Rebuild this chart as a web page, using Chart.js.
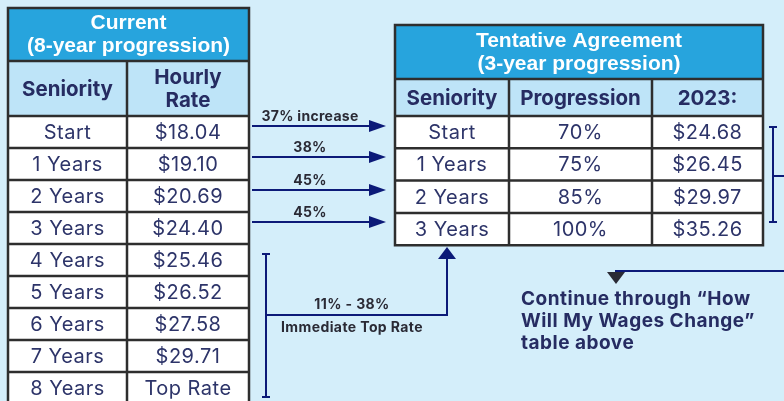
<!DOCTYPE html>
<html>
<head>
<meta charset="utf-8">
<script src="https://cdn.jsdelivr.net/npm/chart.js@4.4.0/dist/chart.umd.min.js"></script>
<style>
  html, body { margin: 0; padding: 0; background: #d4eefa; }
  canvas { display: block; }
</style>
</head>
<body>
<canvas id="chart" width="784" height="401"></canvas>
<script>
'use strict';

// current 8-year table
var currentTitle = ['Current', '(8-year progression)'];
var currentHeaders = [['Seniority'], ['Hourly', 'Rate']];
var currentRows = ['Start', '1 Years', '2 Years', '3 Years', '4 Years', '5 Years', '6 Years', '7 Years', '8 Years'];
var currentRates = ['$18.04', '$19.10', '$20.69', '$24.40', '$25.46', '$26.52', '$27.58', '$29.71', 'Top Rate'];

// tentative agreement table
var taTitle = ['Tentative Agreement', '(3-year progression)'];
var taHeaders = ['Seniority', 'Progression', '2023:'];
var taRows = ['Start', '1 Years', '2 Years', '3 Years'];
var taProgression = ['70%', '75%', '85%', '100%'];
var taRates = ['$24.68', '$26.45', '$29.97', '$35.26'];

// arrows between tables
var arrowLabels = ['37% increase', '38%', '45%', '45%'];
var jumpLabels = ['11% - 38%', 'Immediate Top Rate'];
var noteLines = ['Continue through \u201cHow', 'Will My Wages Change\u201d', 'table above'];

var NAVY = '#262c62';
var ARROW = '#0c1a78';
var BORDER = '#2e2e2e';
var TITLE_BG = '#27a4dd';
var HEAD_BG = '#bee4f8';
var FONT = 'Inter, "Open Sans", sans-serif';

var ctx = document.getElementById('chart').getContext('2d');

function drawTable(c, px, py, cols, top, titleBottom, headBottom, rowH, title, headers, columns) {
  var left = cols[0], right = cols[cols.length - 1];
  var nRows = columns[0].length;
  var bottom = headBottom + rowH * nRows;

  // fills
  c.fillStyle = TITLE_BG;
  c.fillRect(px(left), py(top), px(right) - px(left), py(titleBottom) - py(top));
  c.fillStyle = HEAD_BG;
  c.fillRect(px(left), py(titleBottom), px(right) - px(left), py(headBottom) - py(titleBottom));
  c.fillStyle = '#ffffff';
  c.fillRect(px(left), py(headBottom), px(right) - px(left), py(bottom) - py(headBottom));

  // title
  c.fillStyle = '#ffffff';
  c.font = 'bold 21px "Liberation Sans", Arial, sans-serif';
  c.textAlign = 'center';
  c.textBaseline = 'middle';
  var midX = (px(left) + px(right)) / 2;
  var tMid = (py(top) + py(titleBottom)) / 2;
  c.fillText(title[0], midX, tMid - 11);
  c.fillText(title[1], midX, tMid + 12);

  // headers
  c.fillStyle = NAVY;
  c.font = 'bold 20.5px ' + FONT;
  var hMid = (py(titleBottom) + py(headBottom)) / 2;
  for (var i = 0; i < headers.length; i++) {
    var cx = (px(cols[i]) + px(cols[i + 1])) / 2;
    var h = headers[i];
    if (typeof h === 'string') h = [h];
    for (var k = 0; k < h.length; k++) {
      c.fillText(h[k], cx, hMid + 1 + (k - (h.length - 1) / 2) * 23);
    }
  }

  // cells
  c.fillStyle = '#2d3469';
  c.font = '20px ' + FONT;
  c.letterSpacing = '0.5px';
  for (var col = 0; col < columns.length; col++) {
    var ccx = (px(cols[col]) + px(cols[col + 1])) / 2;
    for (var r = 0; r < nRows; r++) {
      var cy = py(headBottom + rowH * r + rowH / 2);
      c.fillText(columns[col][r], ccx, cy + 1);
    }
  }
  c.letterSpacing = '0px';

  // grid
  c.strokeStyle = BORDER;
  c.lineWidth = 2.5;
  c.beginPath();
  c.rect(px(left), py(top), px(right) - px(left), py(bottom) - py(top));
  c.moveTo(px(left), py(titleBottom)); c.lineTo(px(right), py(titleBottom));
  for (var j = 0; j <= nRows; j++) {
    var yy = py(headBottom + rowH * j);
    c.moveTo(px(left), yy); c.lineTo(px(right), yy);
  }
  for (var m = 1; m < cols.length - 1; m++) {
    c.moveTo(px(cols[m]), py(titleBottom)); c.lineTo(px(cols[m]), py(bottom));
  }
  c.stroke();
}

function arrowRight(c, x0, x1, y) {
  c.strokeStyle = ARROW;
  c.fillStyle = ARROW;
  c.lineWidth = 2;
  c.beginPath(); c.moveTo(x0, y); c.lineTo(x1 - 15, y); c.stroke();
  c.beginPath(); c.moveTo(x1, y); c.lineTo(x1 - 17, y - 6); c.lineTo(x1 - 17, y + 6); c.closePath(); c.fill();
}

var tablePlugin = {
  id: 'tables',
  beforeDraw: function(chart) {
    var c = chart.ctx;
    c.save();
    c.fillStyle = '#d4eefa';
    c.fillRect(0, 0, chart.width, chart.height);
    c.restore();
  },
  afterDatasetsDraw: function(chart) {
    var c = chart.ctx;
    var xs = chart.scales.x, ys = chart.scales.y;
    var px = function(v) { return xs.getPixelForValue(v); };
    var py = function(v) { return ys.getPixelForValue(v); };
    c.save();

    drawTable(c, px, py, [8, 127, 249], 8, 61, 116, 32, currentTitle, currentHeaders, [currentRows, currentRates]);
    drawTable(c, px, py, [395, 509, 652, 763], 25, 79, 116, 32.3, taTitle, taHeaders, [taRows, taProgression, taRates]);

    // row arrows
    c.font = 'bold 14px ' + FONT;
    c.letterSpacing = '0.3px';
    c.textAlign = 'center';
    c.textBaseline = 'middle';
    var arrowY = [126, 157, 190, 222];
    for (var i = 0; i < arrowLabels.length; i++) {
      arrowRight(c, px(252), px(386), py(arrowY[i]));
      c.fillStyle = '#2a2a35';
      c.fillText(arrowLabels[i], px(310), py(arrowY[i] - 9));
    }

    // bracket on 4-8 years to TA start
    c.strokeStyle = ARROW;
    c.fillStyle = ARROW;
    c.lineWidth = 2;
    c.beginPath();
    c.moveTo(px(266), py(254)); c.lineTo(px(266), py(397));
    c.moveTo(px(262), py(254)); c.lineTo(px(270), py(254));
    c.moveTo(px(262), py(397)); c.lineTo(px(270), py(397));
    c.moveTo(px(266), py(315)); c.lineTo(px(447), py(315)); c.lineTo(px(447), py(258));
    c.stroke();
    c.beginPath();
    c.moveTo(px(447), py(247)); c.lineTo(px(438), py(259)); c.lineTo(px(456), py(259)); c.closePath(); c.fill();

    c.fillStyle = '#2a2a35';
    c.letterSpacing = '0.4px';
    c.fillText(jumpLabels[0], px(352), py(305));
    c.fillText(jumpLabels[1], px(352), py(328));

    // right bracket and continue arrow
    c.beginPath();
    c.moveTo(px(773), py(127)); c.lineTo(px(773), py(222));
    c.moveTo(px(769), py(127)); c.lineTo(px(777), py(127));
    c.moveTo(px(769), py(222)); c.lineTo(px(777), py(222));
    c.moveTo(px(773), py(176)); c.lineTo(px(784), py(176));
    c.moveTo(px(784), py(271)); c.lineTo(px(616), py(271)); c.lineTo(px(616), py(275));
    c.stroke();
    c.beginPath();
    c.moveTo(px(616), py(284)); c.lineTo(px(607), py(272)); c.lineTo(px(625), py(272)); c.closePath(); c.fill();

    c.fillStyle = NAVY;
    c.font = 'bold 19px ' + FONT;
    c.letterSpacing = '0.5px';
    c.textAlign = 'left';
    for (var n = 0; n < noteLines.length; n++) {
      c.fillText(noteLines[n], px(521), py(299 + n * 22));
    }
    c.restore();
  }
};

var chart = new Chart(ctx, {
  type: 'scatter',
  data: { datasets: [{ data: [], pointRadius: 0 }] },
  options: {
    responsive: false,
    animation: false,
    devicePixelRatio: 1,
    layout: { padding: 0 },
    plugins: { legend: { display: false }, tooltip: { enabled: false } },
    scales: {
      x: { type: 'linear', min: 0, max: 784, display: false },
      y: { type: 'linear', min: 0, max: 401, reverse: true, display: false }
    }
  },
  plugins: [tablePlugin]
});
</script>
</body>
</html>
